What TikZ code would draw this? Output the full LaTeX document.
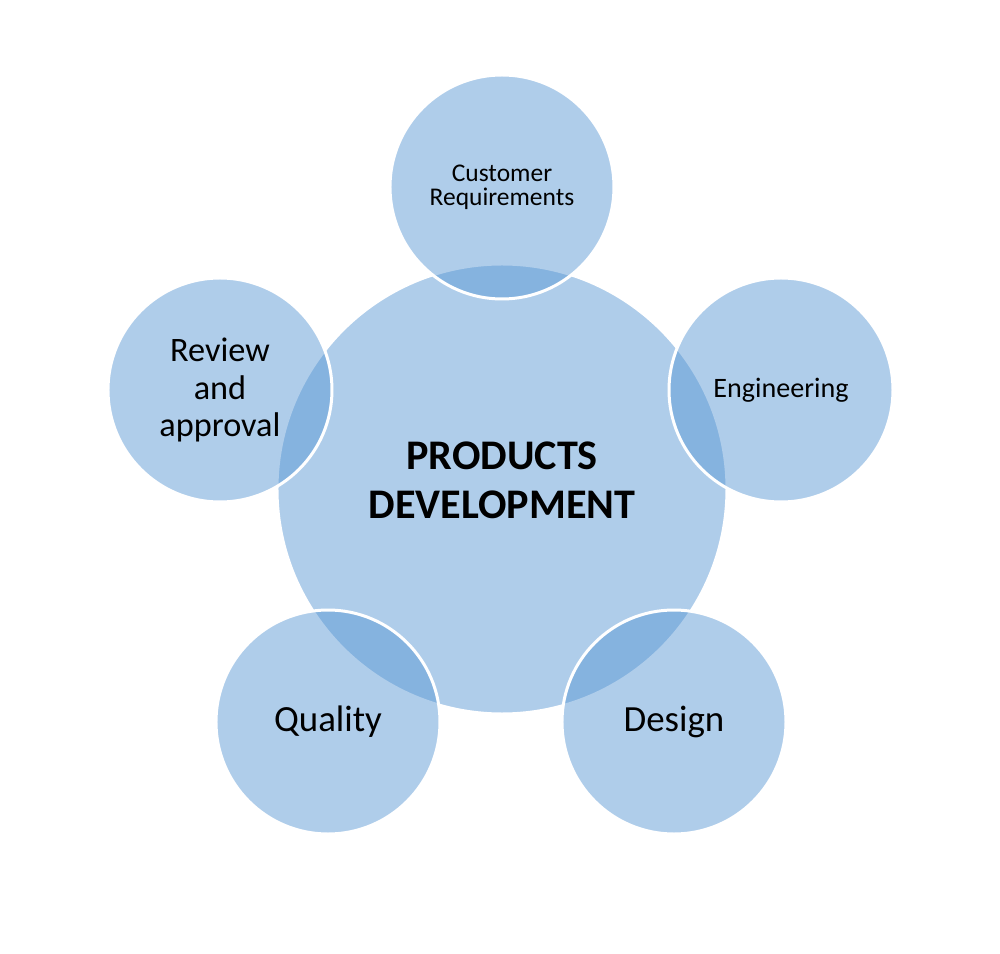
\documentclass[tikz,border=0pt]{standalone}
\usepackage{fontspec}
\setmainfont{Carlito}
\definecolor{petal}{RGB}{87,150,211}

\begin{document}
\begin{tikzpicture}[every node/.style={circle, draw=white, line width=1.7pt, fill=petal, fill opacity=0.475, text opacity=1, align=center, inner sep=0pt}]
			\useasboundingbox (-10.04,-9.30) rectangle (9.96,9.78);
			
			\node[minimum size=9cm, text depth=0.36cm, font=\fontsize{24}{27.6}\selectfont\bfseries] (prod) at (0,0){PRODUCTS\\DEVELOPMENT};
			
			\node[minimum size=4.48cm, font=\fontsize{14.5}{13.6}\selectfont] (cust) at (0,6.04){Customer\\Requirements};
			\node[minimum size=4.48cm, font=\fontsize{16}{18}\selectfont] (eng) at (5.58,1.98){Engineering};
			\node[minimum size=4.48cm, font=\fontsize{21}{24}\selectfont] (des) at (3.44,-4.66){Design};
			\node[minimum size=4.48cm, font=\fontsize{21}{24}\selectfont] (qual) at (-3.48,-4.66){Quality};
			\node[minimum size=4.48cm, font=\fontsize{19.5}{21.6}\selectfont] (rev) at (-5.64,1.98){Review\\and\\approval};
			\end{tikzpicture}
\end{document}
